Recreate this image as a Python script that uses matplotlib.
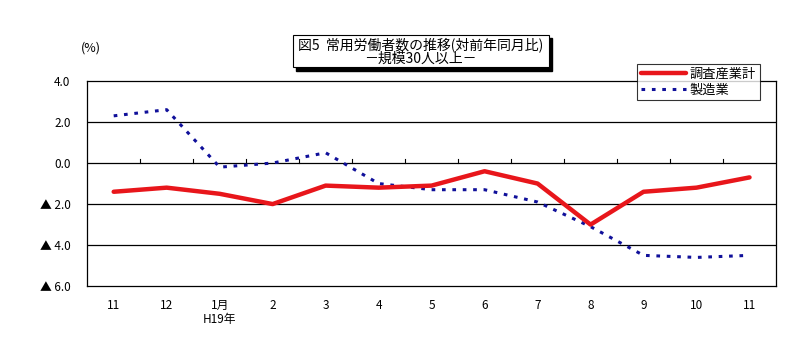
import numpy as np
import matplotlib
matplotlib.use('Agg')
import matplotlib.pyplot as plt
from matplotlib.patches import Rectangle

plt.rcParams['font.family'] = ['Noto Sans CJK JP', 'DejaVu Sans']

months = ['11', '12', '1月\nH19年', '2', '3', '4', '5', '6', '7', '8', '9', '10', '11']
total = [-1.4, -1.2, -1.5, -2.0, -1.1, -1.2, -1.1, -0.4, -1.0, -3.0, -1.4, -1.2, -0.7]
manuf = [2.3, 2.6, -0.2, 0.0, 0.5, -1.0, -1.3, -1.3, -1.9, -3.1, -4.5, -4.6, -4.5]
yticks = [4, 2, 0, -2, -4, -6]
ylabels = ['4.0', '2.0', '0.0', '▲ 2.0', '▲ 4.0', '▲ 6.0']

fig = plt.figure(figsize=(8, 3.46), dpi=100)
ax = fig.add_axes([0.109, 0.173, 0.861, 0.593])
x = np.arange(len(months))

for yv in yticks[1:-1]:
    ax.axhline(yv, color='black', lw=0.9, zorder=1)
# category boundary ticks on the 0 line
for b in np.arange(0.5, len(months) - 1, 1):
    ax.plot([b, b], [0, 0.2], color='black', lw=0.8, zorder=1)

ax.plot(x, total, color='#e8161b', lw=3.2, solid_capstyle='round', zorder=3, label='調査産業計')
ax.plot(x, manuf, color='#10109a', lw=2.2, ls=(0, (1.2, 2.2)), zorder=2, label='製造業')

ax.set_xlim(-0.5, len(months) - 0.5)
ax.set_ylim(-6, 4)
ax.set_yticks(yticks)
ax.set_yticklabels(ylabels, fontsize=8.5)
ax.set_xticks(x)
ax.set_xticklabels(months, fontsize=8.5, va='top', linespacing=1.1)
ax.tick_params(axis='both', length=0, pad=9)
ax.tick_params(axis='y', pad=12)
for s in ax.spines.values():
    s.set_linewidth(0.9)

fig.text(0.113, 0.852, '(%)', fontsize=9, ha='center')

# title box with shadow
tx, ty, tw, th = 0.366, 0.805, 0.320, 0.093
fig.patches.append(Rectangle((tx + 0.004, ty - 0.009), tw, th, transform=fig.transFigure,
                             facecolor='black', edgecolor='black', zorder=1))
fig.patches.append(Rectangle((tx, ty), tw, th, transform=fig.transFigure,
                             facecolor='white', edgecolor='black', lw=0.8, zorder=2))
fig.text(tx + tw / 2, ty + th * 0.71, '図5  常用労働者数の推移(対前年同月比)', fontsize=10,
         ha='center', va='center', zorder=3)
fig.text(tx + tw / 2, ty + th * 0.26, '－規模30人以上－', fontsize=10,
         ha='center', va='center', zorder=3)

leg = ax.legend(loc='upper right', bbox_to_anchor=(0.977, 1.083), fontsize=9.5, frameon=True,
                fancybox=False, edgecolor='black', handlelength=3.4, borderpad=0.3,
                labelspacing=0.2, handletextpad=0.3, borderaxespad=0)
leg.get_frame().set_linewidth(0.8)

fig.savefig('out.png', dpi=100)
